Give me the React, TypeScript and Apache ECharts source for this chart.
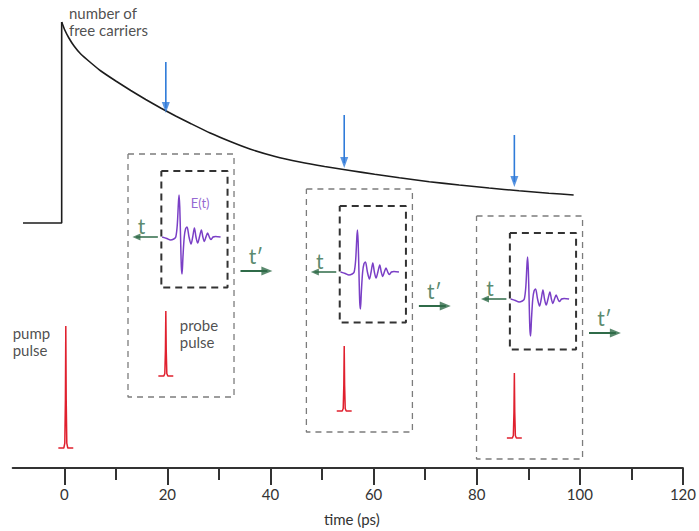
import React, { useEffect, useRef } from "react";
import * as echarts from "echarts";

// ---------------- data ----------------
// axis
const xMajorTicks = [0, 20, 40, 60, 80, 100, 120];
const xMinorTicks = [10, 30, 50, 70, 90, 110];

// number of free carriers (arb. units = height above the time axis)
const carrierStepT = [-8, -0.5, -0.5];
const carrierStepN = [245, 245, 446];
const carrierDecayT = [-0.5, 0.1, 0.9, 1.9, 3.2, 5.2, 7.1, 10, 12.9, 15.8, 18.7, 21.6, 24.5, 28.3, 32.2, 36, 40.9, 45.7, 50.5, 55.4, 60.2, 65, 70.8, 76.6, 82.4, 88.2, 94, 98.8];
const carrierDecayN = [446, 438, 430, 422, 414, 405, 397, 387, 377.5, 368.5, 360, 352, 344.5, 335, 326.5, 319, 311.5, 306, 301.5, 297.5, 293.7, 290.2, 286.3, 283, 280, 277.2, 274.8, 273];

// pump pulse
const pumpDelay = 0.3;
const pumpFoot = 20;
const pumpPeak = 142;

// probe delays and blue markers on the carrier curve
const probeDelays = [19.7, 54.3, 87.3];
const markerTop = [406, 353, 333];
const markerTip = [355, 300, 281];

// THz transient E(t) shape (local time offset, field amplitude)
const waveDx = [-17.7, -13, -9.3, -6, -4, -2.5, -1.3, -0.7, 0, 0.8, 1.6, 2.3, 3.2, 4.5, 5.8, 7.3, 9.3, 11.3, 13, 14.7, 16.3, 18, 19.8, 21.7, 23.2, 24.7, 26.3, 28, 29.7, 31.3, 33.5, 36, 41];
const waveE = [0, -1.5, -3, -2, 0, 12, 35, 42, 30, 0, -30, -37, -20, 0, 8, 10, 0, -7, 0, 9, 0, -6, 0, 7, 0, -4.5, 0, 4, 0, -2.5, 0, 0.5, 0];

// optical pulse shape (local offset, normalised amplitude)
const pulseDx = [-7.5, -2, -1, -0.4, 0, 0.4, 1, 2, 7.5];
const pulseA = [0, 0, 0.04, 0.4, 1, 0.4, 0.04, 0, 0];

// ---------------- layout ----------------
const W = 699;
const H = 531;
const GRID_LEFT = 12.7;
const GRID_RIGHT = 13;
const GRID_BOTTOM = 63;
const X_MIN = -10;
const X_MAX = 120;
const Y_MAX = H - GRID_BOTTOM;
const PX_PER_PS = (W - GRID_LEFT - GRID_RIGHT) / (X_MAX - X_MIN);
const ps = (px: number) => px / PX_PER_PS;

const windowBase = [231, 196, 169];

const BLACK = "#1c1c1c";
const RED = "#e0202e";
const PURPLE = "#7a3fc6";
const GREEN = "#2f6b48";
const BLUE = "#2f7bd9";
const FONT = "Lato, 'Open Sans', sans-serif";

type P = [number, number];

function lineSeries(data: P[], color: string, width: number, extra: any = {}) {
  return {
    type: "line",
    data,
    symbol: "none",
    silent: true,
    lineStyle: { color, width, ...(extra.lineStyle || {}) },
    smooth: extra.smooth || false,
    z: extra.z || 2,
  };
}

function rect(x1: number, y1: number, x2: number, y2: number): P[] {
  return [[x1, y1], [x2, y1], [x2, y2], [x1, y2], [x1, y1]];
}

function heads(points: { x: number; y: number; rot: number }[], color: string, size: number[]) {
  return {
    type: "scatter",
    silent: true,
    symbol: "triangle",
    symbolSize: size,
    itemStyle: { color },
    z: 5,
    data: points.map((p) => ({ value: [p.x, p.y], symbolRotate: p.rot })),
  };
}

function texts(items: { x: number; y: number; text: string }[], style: any) {
  return {
    type: "scatter",
    silent: true,
    symbolSize: 0,
    z: 6,
    data: items.map((it) => ({ value: [it.x, it.y], label: { formatter: it.text } })),
    label: { show: true, position: "inside", fontFamily: FONT, ...style },
  };
}

function buildOption() {
  const series: any[] = [];

  // carrier curve
  series.push(lineSeries(carrierStepT.map((t, i) => [t, carrierStepN[i]] as P), BLACK, 1.6));
  series.push(lineSeries(carrierDecayT.map((t, i) => [t, carrierDecayN[i]] as P), BLACK, 1.6, { smooth: 0.2 }));

  // pump pulse
  series.push(lineSeries(pulseDx.map((d, i) => [pumpDelay + ps(d), pumpFoot + (pumpPeak - pumpFoot) * pulseA[i]] as P), RED, 1.5));

  // blue markers
  const blueHeads: any[] = [];
  probeDelays.forEach((t, i) => {
    series.push(lineSeries([[t, markerTop[i]], [t, markerTip[i] + 5]], BLUE, 1.6));
    blueHeads.push({ x: t, y: markerTip[i] + 5.5, rot: 180 });
  });
  series.push(heads(blueHeads, BLUE, [8, 11]));

  const smallHeads: any[] = [];
  const bigHeads: any[] = [];
  const tLabels: any[] = [];
  const tpLabels: any[] = [];

  probeDelays.forEach((t, i) => {
    const b = windowBase[i];
    // outer & inner dashed windows
    series.push(lineSeries(rect(t + ps(-38), b + 83, t + ps(68.5), b - 160), "#7c7c7c", 1.3, { lineStyle: { type: [6, 5] } }));
    series.push(lineSeries(rect(t + ps(-4.5), b + 66, t + ps(62), b - 50.5), "#333333", 2, { lineStyle: { type: [7, 5] } }));
    // E(t)
    series.push(lineSeries(waveDx.map((d, k) => [t + ps(14 + d), b + waveE[k]] as P), PURPLE, 1.5, { smooth: 0.3, z: 3 }));
    // probe pulse
    series.push(lineSeries(pulseDx.map((d, k) => [t + ps(d), b - 139 + 65 * pulseA[k]] as P), RED, 1.5));
    // t arrow (left)
    series.push(lineSeries([[t + ps(-8), b], [t + ps(-30), b]], GREEN, 1.5));
    smallHeads.push({ x: t + ps(-29.5), y: b, rot: 90 });
    tLabels.push({ x: t + ps(-24.5), y: b + 12, text: "t" });
    // t' arrow (right)
    series.push(lineSeries([[t + ps(75), b - 34], [t + ps(102), b - 34]], GREEN, 2));
    bigHeads.push({ x: t + ps(101.5), y: b - 34, rot: -90 });
    tpLabels.push({ x: t + ps(90.5), y: b - 18, text: "t′" });
  });
  series.push(heads(smallHeads, GREEN, [7, 8]));
  series.push(heads(bigHeads, GREEN, [9, 11]));

  series.push(texts(tLabels, { fontSize: 21, color: GREEN, align: "center", verticalAlign: "middle" }));
  series.push(texts(tpLabels, { fontSize: 21, color: GREEN, align: "center", verticalAlign: "middle" }));

  const t0 = probeDelays[0];
  const b0 = windowBase[0];
  series.push(texts([{ x: t0 + ps(25), y: b0 + 34, text: "E(t)" }], { fontSize: 13, color: PURPLE, align: "left", verticalAlign: "middle" }));
  series.push(
    texts(
      [
        { x: t0 + ps(14), y: b0 - 96.5, text: "probe\npulse" },
        { x: X_MIN + ps(0), y: 127, text: "pump\npulse" },
        { x: ps(68 - 63.3), y: 447, text: "number of\nfree carriers" },
      ],
      { fontSize: 15, lineHeight: 17, color: "#222", align: "left", verticalAlign: "middle" }
    )
  );

  const axisCommon = {
    type: "value",
    position: "bottom",
    min: X_MIN,
    max: X_MAX,
    interval: 10,
    splitLine: { show: false },
  };

  return {
    animation: false,
    backgroundColor: "#ffffff",
    grid: { left: GRID_LEFT, right: GRID_RIGHT, top: 0, bottom: GRID_BOTTOM },
    xAxis: [
      {
        ...axisCommon,
        axisLine: { show: true, lineStyle: { color: "#333", width: 2 } },
        axisTick: { show: true, customValues: xMinorTicks, length: 12, lineStyle: { color: "#333", width: 2 } },
        axisLabel: { show: false },
      },
      {
        ...axisCommon,
        axisLine: { show: false },
        axisTick: { show: true, customValues: xMajorTicks, length: 17, lineStyle: { color: "#333", width: 2 } },
        axisLabel: {
          show: true,
          customValues: xMajorTicks,
          margin: 18,
          fontFamily: FONT,
          fontSize: 15,
          color: "#333",
        },
        name: "time (ps)",
        nameLocation: "middle",
        nameGap: 43,
        nameTextStyle: { fontFamily: FONT, fontSize: 15, color: "#333", padding: [0, 0, 0, 8] },
      },
    ],
    yAxis: { type: "value", min: 0, max: Y_MAX, show: false },
    series,
  };
}

export default function App() {
  const ref = useRef<HTMLDivElement>(null);
  useEffect(() => {
    if (!ref.current) return;
    const chart = echarts.init(ref.current, undefined, { renderer: "svg" });
    chart.setOption(buildOption() as any);
    return () => chart.dispose();
  }, []);
  return (
    <div
      ref={ref}
      style={{ position: "fixed", left: 0, top: 0, width: W, height: H, background: "#fff" }}
    />
  );
}
